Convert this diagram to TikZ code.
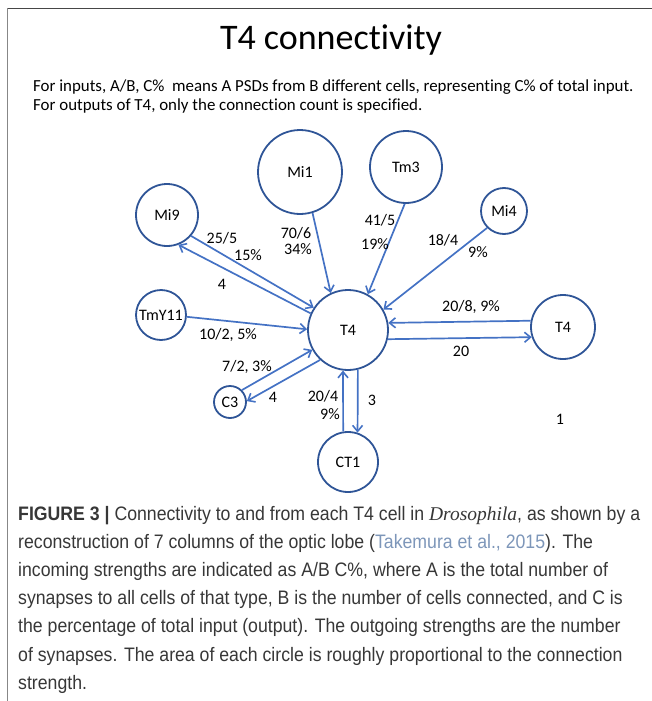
\documentclass[tikz,border=0pt]{standalone}
\usepackage{fontspec}
\setmainfont{Carlito}[Ligatures=NoCommon]
\newfontfamily\capfont{Liberation Sans}[FakeStretch=0.907]
\newfontfamily\capserif{Liberation Serif}
\usetikzlibrary{arrows.meta}
\definecolor{circ}{RGB}{47,85,151}
\definecolor{arr}{RGB}{68,114,196}
\definecolor{captext}{RGB}{55,55,55}
\definecolor{cite}{RGB}{125,150,185}
\definecolor{frametop}{RGB}{70,70,70}
\definecolor{frameleft}{RGB}{135,135,135}
\begin{document}
\begin{tikzpicture}[x=1pt,y=-1pt,
  cell/.style={circle,draw=circ,line width=1.8pt,inner sep=0pt,font=\fontsize{16}{16}\selectfont},
  conn/.style={draw=arr,line width=1.7pt,-{Straight Barb[length=6pt,width=10pt,line width=1.6pt]}},
  lbl/.style={font=\fontsize{16}{16}\selectfont,inner sep=0pt},
  capline/.style={anchor=base west,inner sep=0pt,text=captext,font=\capfont\fontsize{19.5}{19.5}\selectfont}]
\useasboundingbox (0,0) rectangle (652,701);
% frame
\coordinate (ftl) at (7.5,8.5);
\coordinate (ftr) at (652,8.5);
\coordinate (fbl) at (7.5,701);
\draw[frametop,line width=1.6pt] (ftl) -- (ftr);
\draw[frameleft,line width=1.6pt] (ftl) -- (fbl);
% title
\node[anchor=base,inner sep=0pt,font=\fontsize{36}{36}\selectfont] (title) at (331,49) {T4 connectivity};
\node[anchor=base west,inner sep=0pt,font=\fontsize{16.9}{16.9}\selectfont] (sub1) at (33,91) {For inputs, A/B, C\%~ means A PSDs from B different cells, representing C\% of total input.};
\node[anchor=base west,inner sep=0pt,font=\fontsize{16.9}{16.9}\selectfont] (sub2) at (33,110) {For outputs of T4, only the connection count is specified.};
% cells
\node[cell,minimum size=84pt] (mi1) at (300,172) {Mi1};
\node[cell,minimum size=72pt] (tm3) at (406,167) {Tm3};
\node[cell,minimum size=62pt] (mi9) at (167,215) {Mi9};
\node[cell,minimum size=46pt] (mi4) at (504,211) {Mi4};
\node[cell,minimum size=64pt] (t4r) at (563,327) {T4};
\node[cell,minimum size=80pt] (t4) at (348,330) {T4};
\node[cell,minimum size=50pt] (tmy) at (161,315) {TmY11};
\node[cell,minimum size=32pt] (c3) at (230,402) {C3};
\node[cell,minimum size=60pt] (ct1) at (348,462) {CT1};
% connectors
\draw[conn] (mi1.-73) -- (t4.115);
\draw[conn] (tm3.-92) -- (t4.61);
\draw[conn] (mi4.-135) -- (t4.30);
\draw[conn] (mi9.-41) -- (t4.147);
\draw[conn] (t4.156) -- (mi9.-69);
\draw[conn] (tmy.-4) -- (t4.179);
\draw[conn] (c3.45) -- (t4.-151);
\draw[conn] (t4.-133) -- (c3.3);
\draw[conn] (ct1.99.5) -- (t4.-97);
\draw[conn] (t4.-76) -- (ct1.72);
\draw[conn] (t4r.169) -- (t4.10);
\draw[conn] (t4.-13) -- (t4r.-162);
% labels
\node[lbl] (l1a) at (296,233) {70/6};
\node[lbl] (l1b) at (298,249) {34\%};
\node[lbl] (l2a) at (380,220) {41/5};
\node[lbl] (l2b) at (375,244) {19\%};
\node[lbl] (l3a) at (443,240) {18/4};
\node[lbl] (l3b) at (478,252) {9\%};
\node[lbl] (l4a) at (222,238) {25/5};
\node[lbl] (l4b) at (248,255) {15\%};
\node[lbl] (l4c) at (222,284) {4};
\node[lbl] (l5) at (228,335) {10/2, 5\%};
\node[lbl] (l6a) at (247,367) {7/2, 3\%};
\node[lbl] (l6b) at (273,397) {4};
\node[lbl] (l7a) at (323,396) {20/4};
\node[lbl] (l7b) at (330,414) {9\%};
\node[lbl] (l7c) at (372,400) {3};
\node[lbl] (l8a) at (471,307) {20/8, 9\%};
\node[lbl] (l8b) at (461,351) {20};
\node[lbl] (one) at (560,419) {1};
% caption
\node[capline] (cap1) at (18,520) {\textbf{FIGURE 3 |} Connectivity to and from each T4 cell in {\capserif\itshape Drosophila}, as shown by a};
\node[capline] (cap2) at (18,548.2) {reconstruction of 7 columns of the optic lobe (\textcolor{cite}{Takemura et al., 2015}). The};
\node[capline] (cap3) at (18,576.4) {incoming strengths are indicated as A/B C\%, where A is the total number of};
\node[capline] (cap4) at (18,604.6) {synapses to all cells of that type, B is the number of cells connected, and C is};
\node[capline] (cap5) at (18,632.8) {the percentage of total input (output). The outgoing strengths are the number};
\node[capline] (cap6) at (18,661) {of synapses. The area of each circle is roughly proportional to the connection};
\node[capline] (cap7) at (18,689.2) {strength.};
\end{tikzpicture}
\end{document}
